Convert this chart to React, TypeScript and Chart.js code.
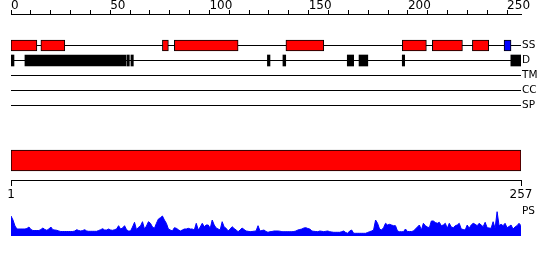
import { useEffect, useRef } from 'react';
import { Chart, registerables } from 'chart.js';

Chart.register(...registerables);

// ---------------- data ----------------
const SEQ_LENGTH = 257;

// top ruler ticks (every 10, labelled every 50)
const RULER_TICKS = [0, 10, 20, 30, 40, 50, 60, 70, 80, 90, 100, 110, 120, 130, 140, 150, 160, 170, 180, 190, 200, 210, 220, 230, 240, 250];
const RULER_LABELS = [0, 50, 100, 150, 200, 250];

// bottom axis ticks
const AXIS_TICKS = [1, 257];

// track labels (right side)
const TRACK_LABELS = ['SS', 'D', 'TM', 'CC', 'SP', 'PS'];

// secondary structure: helices (red), strand (blue)
const SS_HELIX: [number, number][] = [
  [1, 14], [16, 28], [77, 80], [83, 115], [139, 158], [197.4, 209.5], [212.5, 227.6], [232.6, 240.8],
];
const SS_STRAND: [number, number][] = [[248.5, 252]];

// disorder regions (black)
const DISORDER: [number, number][] = [
  [0.5, 2.5], [8, 58.7], [59.2, 60.4], [61.2, 62.4], [129.7, 131], [137.5, 138.9],
  [169.8, 173], [175.7, 180.1], [197.4, 198.6], [251.9, 257],
];

// full-length domain bar
const DOMAIN: [number, number][] = [[1, 257]];

// PS profile per residue (arbitrary units)
const PS_SCORES = [
  20, 16, 10, 7, 7, 7, 7, 7, 7.5, 9,
  6.5, 5.5, 5.5, 5.5, 5.5, 6.5, 8, 6.5, 5.7, 7,
  9, 6.3, 6, 5.7, 5, 4.5, 4.5, 4.5, 4.5, 4.5,
  4.5, 4.5, 5, 6.3, 5.5, 5, 5.5, 6.3, 5, 4.7,
  4.7, 4.7, 4.7, 4.7, 5.5, 6.3, 7.3, 6, 6, 7,
  6, 5.7, 6.3, 7, 10.3, 7, 8, 10.3, 6.3, 5,
  5, 9, 13.7, 6.3, 8.7, 10, 14.3, 7, 10, 14.3,
  12.7, 9, 7.7, 12.7, 17, 18.3, 20, 16, 12.7, 7,
  6, 5, 8.3, 7.7, 6.3, 5, 6, 7, 7, 7.7,
  7, 7, 6, 12.7, 6, 9, 12.7, 9.3, 11, 11,
  7.7, 16, 11, 8, 7, 6, 14.3, 9, 7.7, 5,
  7, 9.3, 7.5, 6, 4.3, 6, 8, 6.5, 5, 4.7,
  4.3, 4.5, 4.8, 5, 10.3, 5, 5.5, 6, 4.5, 3.7,
  4.3, 4.5, 5, 5, 5, 4.8, 4.3, 4.3, 4.3, 4.3,
  4.3, 4.3, 4.5, 5, 6, 6.5, 7, 8, 8.3, 7.5,
  7, 5, 4.7, 4.5, 4.3, 5, 4.7, 4.3, 4.7, 5,
  4.3, 4, 3.7, 3.7, 3.7, 3.7, 4.3, 5, 3.5, 2.7,
  5, 6, 2.7, 2.7, 2.7, 2.7, 2.7, 2.7, 2.7, 3.5,
  4.3, 5, 6, 16, 12.7, 7, 6, 8.3, 12.7, 11,
  11.7, 11, 10.3, 10.3, 5, 4.3, 4.3, 4.3, 7, 4.5,
  4.5, 4.5, 5, 7, 9, 11, 6, 12.7, 10.3, 9,
  8.3, 15, 15, 13.5, 12.7, 13.7, 10.3, 11, 12.7, 7.7,
  12.7, 9, 8.3, 10.3, 11, 12.7, 7, 6.5, 6, 11,
  7.7, 11, 12.7, 11.7, 10.3, 12.7, 11, 9.3, 13.7, 8.3,
  8, 7.7, 14.3, 7.7, 24.3, 10.3, 11.7, 10.3, 12.7, 8.3,
  9.5, 11, 7, 9, 10.3, 12.7, 10.3,
];

// ---------------- layout (vertical positions in plot units) ----------------
const PLOT_SPAN = 222;
const ROW: Record<string, number> = { SS: 31.5, D: 46.5, TM: 61.5, CC: 76.5, SP: 91.5, PS: 197 };
const DOMAIN_ROW = 146.5;
const AXIS_ROW = 166;
const LINE_TRACKS = ['SS', 'D', 'TM', 'CC', 'SP'];

export default function App() {
  const ref = useRef<HTMLCanvasElement>(null);

  useEffect(() => {
    if (!ref.current) return;
    Chart.defaults.font.family = "'DejaVu Sans', sans-serif";

    const boxes = (ranges: [number, number][], row: number) =>
      ranges.map(([s, e]) => ({ x: [s, e], y: row }));

    const barBase = {
      type: 'bar',
      indexAxis: 'y',
      xAxisID: 'x2',
      yAxisID: 'y',
      grouped: false,
      borderSkipped: false,
      borderWidth: 1,
      borderColor: '#000000',
      order: 1,
    };

    const datasets: any[] = [
      { ...barBase, label: 'helix', data: boxes(SS_HELIX, ROW.SS), backgroundColor: '#ff0000', barThickness: 11 },
      { ...barBase, label: 'strand', data: boxes(SS_STRAND, ROW.SS), backgroundColor: '#0000ff', barThickness: 11 },
      { ...barBase, label: 'disorder', data: boxes(DISORDER, ROW.D), backgroundColor: '#000000', borderWidth: 0, barThickness: 11 },
      { ...barBase, label: 'domain', data: boxes(DOMAIN, DOMAIN_ROW), backgroundColor: '#ff0000', barThickness: 21 },
      ...LINE_TRACKS.map((t) => ({
        type: 'line',
        label: t,
        indexAxis: 'x',
        xAxisID: 'x2',
        yAxisID: 'y',
        data: [{ x: 1, y: ROW[t] }, { x: SEQ_LENGTH, y: ROW[t] }],
        borderColor: '#000000',
        borderWidth: 1,
        pointRadius: 0,
        fill: false,
        order: 2,
      })),
      {
        type: 'line',
        label: 'PS',
        indexAxis: 'x',
        xAxisID: 'x2',
        yAxisID: 'yPS',
        data: PS_SCORES.map((v, i) => ({ x: i + 1, y: v })),
        fill: 'origin',
        backgroundColor: '#0000ff',
        borderColor: '#0000ff',
        borderWidth: 1,
        pointRadius: 0,
        tension: 0,
        order: 3,
      },
    ];

    const chart = new Chart(ref.current, {
      type: 'bar',
      data: { datasets },
      options: {
        animation: false,
        responsive: false,
        maintainAspectRatio: false,
        indexAxis: 'y',
        events: [],
        layout: { padding: { left: 11, right: 0, top: 0, bottom: 24 } },
        plugins: { legend: { display: false }, tooltip: { enabled: false } },
        scales: {
          x: {
            type: 'linear',
            axis: 'x',
            position: 'top',
            min: 0,
            max: SEQ_LENGTH,
            offset: false,
            afterBuildTicks: (s: any) => { s.ticks = RULER_TICKS.map((v) => ({ value: v })); },
            afterFit: (s: any) => { s.height = 14; },
            grid: { drawOnChartArea: false, drawTicks: true, tickLength: 4, color: '#000000', offset: false },
            border: { display: true, color: '#000000', width: 1 },
            ticks: {
              autoSkip: false,
              maxRotation: 0,
              minRotation: 0,
              align: 'start',
              padding: -3.5,
              color: '#000000',
              font: { size: 12 },
              callback: (v: any) => (RULER_LABELS.includes(Number(v)) ? String(v) : ''),
            },
          },
          x2: {
            type: 'linear',
            axis: 'x',
            position: { y: AXIS_ROW },
            min: 1,
            max: SEQ_LENGTH,
            offset: false,
            afterBuildTicks: (s: any) => { s.ticks = AXIS_TICKS.map((v) => ({ value: v })); },
            grid: { drawOnChartArea: false, drawTicks: true, tickLength: 5, color: '#000000', offset: false },
            border: { display: true, color: '#000000', width: 1 },
            ticks: {
              autoSkip: false,
              maxRotation: 0,
              minRotation: 0,
              padding: 3,
              color: '#000000',
              font: { size: 12 },
              callback: (v: any) => String(v),
            },
          },
          y: {
            type: 'linear',
            axis: 'y',
            position: 'right',
            reverse: true,
            min: 0,
            max: PLOT_SPAN,
            offset: false,
            afterBuildTicks: (s: any) => { s.ticks = LINE_TRACKS.concat(['PS']).map((t) => ({ value: ROW[t] })); },
            afterFit: (s: any) => { s.width = 29; },
            grid: { display: false },
            border: { display: false },
            ticks: {
              autoSkip: false,
              padding: -7,
              color: '#000000',
              font: { size: 10.5 },
              callback: (_v: any, i: number) => TRACK_LABELS[i],
            },
          },
          yPS: {
            type: 'linear',
            axis: 'y',
            display: false,
            min: 0,
            max: PLOT_SPAN,
            offset: false,
          },
        },
      } as any,
    } as any);

    return () => chart.destroy();
  }, []);

  return (
    <div style={{ position: 'absolute', left: 0, top: 0, width: 550, height: 260, background: '#ffffff' }}>
      <canvas ref={ref} width={550} height={260} style={{ display: 'block', width: 550, height: 260 }} />
    </div>
  );
}
